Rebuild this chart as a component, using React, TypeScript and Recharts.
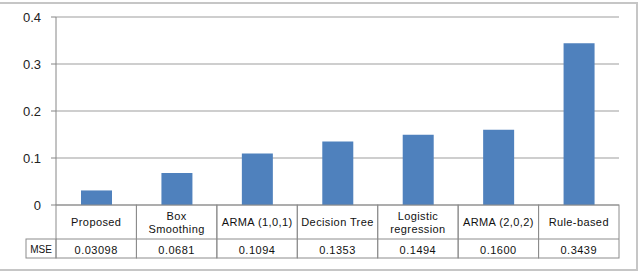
import React from 'react';
import { BarChart, Bar, XAxis, YAxis, CartesianGrid } from 'recharts';

const methods = ['Proposed', 'Box Smoothing', 'ARMA (1,0,1)', 'Decision Tree', 'Logistic regression', 'ARMA (2,0,2)', 'Rule-based'];
// two-line headers for the table row
const methodLines = [['Proposed'], ['Box', 'Smoothing'], ['ARMA (1,0,1)'], ['Decision Tree'], ['Logistic', 'regression'], ['ARMA (2,0,2)'], ['Rule-based']];
const mse = [0.03098, 0.0681, 0.1094, 0.1353, 0.1494, 0.16, 0.3439];
const mseLabels = ['0.03098', '0.0681', '0.1094', '0.1353', '0.1494', '0.1600', '0.3439'];
const yTicks = [0, 0.1, 0.2, 0.3, 0.4];
const rowLabel = 'MSE';

const data = methods.map((m, i) => ({ method: m, mse: mse[i], label: mseLabels[i], lines: methodLines[i] }));

const W = 639;
const H = 271;
const LEFT = 56;
const RIGHT = 20;
const CELL_W = (W - LEFT - RIGHT) / methods.length;
const HEAD_H = 34;
const ROW_H = 19;
const LABEL_W = 30;
const FONT = '"Liberation Sans", Arial, sans-serif';
const LINE = '#8c8c8c';

const TableTick = (props: any) => {
  const { x, y, index } = props;
  const d = data[index];
  const x0 = x - CELL_W / 2;
  const lines: string[] = d.lines;
  const lh = 13;
  const startY = y + HEAD_H / 2 - ((lines.length - 1) * lh) / 2;
  return (
    <g>
      <rect x={x0} y={y} width={CELL_W} height={HEAD_H + ROW_H} fill="none" stroke={LINE} />
      <line x1={x0} x2={x0 + CELL_W} y1={y + HEAD_H} y2={y + HEAD_H} stroke={LINE} />
      {lines.map((t, k) => (
        <text key={k} x={x} y={startY + k * lh} textAnchor="middle" dominantBaseline="central" fontSize={11} fontFamily={FONT} fill="#111" letterSpacing={0.4}>
          {t}
        </text>
      ))}
      <text x={x} y={y + HEAD_H + ROW_H / 2 + 1} textAnchor="middle" dominantBaseline="central" fontSize={11} fontFamily={FONT} fill="#111" letterSpacing={0.5}>
        {d.label}
      </text>
      {index === 0 && (
        <g>
          <rect x={x0 - LABEL_W} y={y + HEAD_H} width={LABEL_W} height={ROW_H} fill="none" stroke={LINE} />
          <text x={x0 - LABEL_W / 2} y={y + HEAD_H + ROW_H / 2 + 1} textAnchor="middle" dominantBaseline="central" fontSize={10} fontFamily={FONT} fill="#111">
            {rowLabel}
          </text>
        </g>
      )}
    </g>
  );
};

export default function App() {
  return (
    <div style={{ position: 'absolute', left: 0, top: 0, width: W, height: H, background: '#fff' }}>
      <div style={{ position: 'absolute', left: -2, top: 2, width: W - 3, height: H - 6, border: '2px solid #c6c6c6' }} />
      <BarChart width={W} height={H} data={data} margin={{ top: 17, right: RIGHT, left: 0, bottom: 12 }} barSize={31}>
        <CartesianGrid vertical={false} stroke="#9d9d9d" />
        <YAxis
          width={LEFT}
          domain={[0, 0.4]}
          ticks={yTicks}
          tick={{ fontSize: 13, fontFamily: FONT, fill: '#222' }}
          tickFormatter={(v: number) => (v === 0 ? '0' : v.toFixed(1))}
          stroke="#868686"
          tickSize={5}
          tickMargin={10}
        />
        <XAxis dataKey="method" height={HEAD_H + ROW_H + 1} tick={<TableTick />} tickLine={false} tickSize={0} tickMargin={0} axisLine={false} interval={0} />
        <Bar dataKey="mse" fill="#4f81bd" isAnimationActive={false} />
      </BarChart>
    </div>
  );
}
